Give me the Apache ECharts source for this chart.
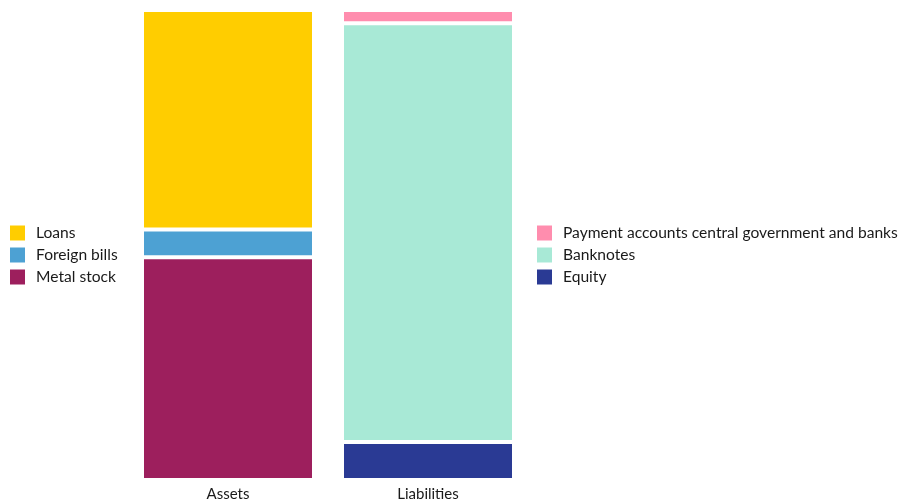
<!DOCTYPE html>
<html>
<head>
<meta charset="utf-8">
<script src="https://cdn.jsdelivr.net/npm/echarts@6/dist/echarts.min.js"></script>
<style>
  html, body { margin: 0; padding: 0; background: #fff; }
  #chart { width: 898px; height: 500px; }
</style>
</head>
<body>
<div id="chart"></div>
<script>
// Balance sheet composition, share of total (%)
const categories = ['Assets', 'Liabilities'];

const assetNames = ['Loans', 'Foreign bills', 'Metal stock'];
const assetValues = [46.7, 5.9, 47.4];

const liabilityNames = ['Payment accounts central government and banks', 'Banknotes', 'Equity'];
const liabilityValues = [2.8, 89.1, 8.1];

const colors = {
  'Loans': '#FFCD00',
  'Foreign bills': '#4DA1D3',
  'Metal stock': '#9D1F5D',
  'Payment accounts central government and banks': '#FF8DAE',
  'Banknotes': '#A8E9D6',
  'Equity': '#2A3A94'
};

const FONT = 'Lato';

// Stack from the bottom up: last listed item sits at the base of its column
function buildSeries(names, values, column) {
  const out = [];
  for (let i = names.length - 1; i >= 0; i--) {
    const data = categories.map((c, j) => (j === column ? values[i] : null));
    out.push({
      name: names[i],
      type: 'bar',
      stack: 'balance',
      barWidth: 172,
      data: data,
      itemStyle: { color: colors[names[i]], borderColor: '#ffffff', borderWidth: 2 },
      emphasis: { disabled: true }
    });
  }
  return out;
}

const series = buildSeries(assetNames, assetValues, 0).concat(buildSeries(liabilityNames, liabilityValues, 1));

const legendBase = {
  orient: 'vertical',
  icon: 'rect',
  padding: 0,
  itemWidth: 15,
  itemHeight: 15,
  itemGap: 6,
  selectedMode: false,
  itemStyle: { borderWidth: 0 },
  textStyle: { fontFamily: FONT, fontSize: 15.6, lineHeight: 15, color: '#1a1a1a', padding: [0, 0, 0, 6] }
};

const chart = echarts.init(document.getElementById('chart'), null, { renderer: 'canvas' });
chart.setOption({
  animation: false,
  backgroundColor: '#ffffff',
  legend: [
    Object.assign({}, legendBase, { left: 10, top: 225, data: assetNames }),
    Object.assign({}, legendBase, { left: 537, top: 225, data: liabilityNames })
  ],
  grid: { left: 128, width: 400, top: 10, bottom: 20, containLabel: false, outerBoundsMode: 'none' },
  xAxis: {
    type: 'category',
    data: categories,
    axisLine: { show: false },
    axisTick: { show: false },
    axisLabel: { fontFamily: FONT, fontSize: 15, color: '#1a1a1a', margin: 7 }
  },
  yAxis: {
    type: 'value',
    min: 0,
    max: 100,
    show: false
  },
  series: series
});
</script>
</body>
</html>
